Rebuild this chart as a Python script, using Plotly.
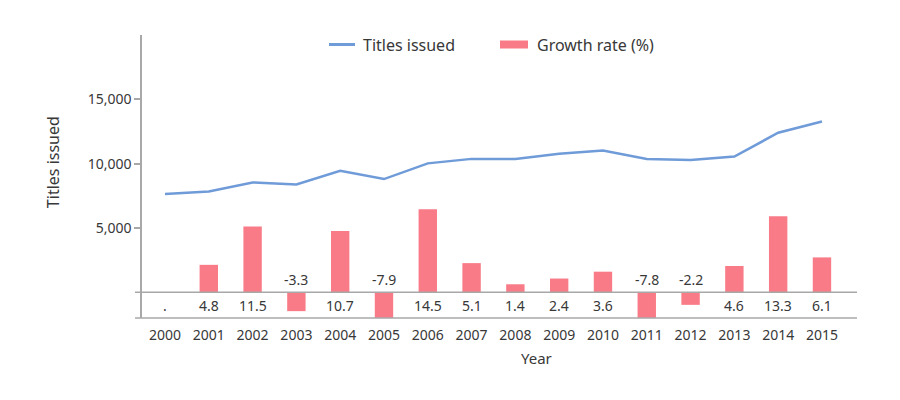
import plotly.graph_objects as go

years = ["2000", "2001", "2002", "2003", "2004", "2005", "2006", "2007",
         "2008", "2009", "2010", "2011", "2012", "2013", "2014", "2015"]
titles_issued = [7630, 7840, 8540, 8380, 9450, 8800, 10020, 10370,
                 10370, 10760, 11020, 10370, 10290, 10550, 12400, 13280]
growth_rate = [None, 4.8, 11.5, -3.3, 10.7, -7.9, 14.5, 5.1,
               1.4, 2.4, 3.6, -7.8, -2.2, 4.6, 13.3, 6.1]
growth_labels = [".", "4.8", "11.5", "-3.3", "10.7", "-7.9", "14.5", "5.1",
                 "1.4", "2.4", "3.6", "-7.8", "-2.2", "4.6", "13.3", "6.1"]
y_tickvals = [5000, 10000, 15000]
y_ticktext = ["5,000", "10,000", "15,000"]

LINE_C = "#6f9bd8"
BAR_C = "#f97b87"
AX_C = "#a8a8a8"
TXT_C = "#383838"
FONT = "Noto Sans"

# page body has an 8px margin; compensate
OFF = 8
L, T, PW, PH = 142 - OFF, 35 - OFF, 715, 282.7
PL, PT = 142, 35          # plot left/top in window pixels
PB = PT + PH


def px_x(x):
    return (x - PL) / PW


def px_y(y):
    return (PB - y) / PH


fig = go.Figure()
fig.add_trace(go.Bar(x=years, y=growth_rate, yaxis="y2", width=0.42,
                     marker=dict(color=BAR_C, line=dict(width=0)),
                     name="Growth rate (%)", showlegend=False))
fig.add_trace(go.Scatter(x=years, y=titles_issued, mode="lines",
                         line=dict(color=LINE_C, width=2.5),
                         name="Titles issued", showlegend=False))

ann = []
for i, (g, lab) in enumerate(zip(growth_rate, growth_labels)):
    neg = g is not None and g < 0
    ann.append(dict(x=i, y=0, xref="x", yref="y", text=lab, showarrow=False,
                    yshift=12.5 if neg else -13,
                    font=dict(family=FONT, size=14, color=TXT_C)))

ann.append(dict(x=px_x(536), y=px_y(358), xref="paper", yref="paper",
                text="Year", showarrow=False, xanchor="center", yanchor="middle",
                font=dict(family=FONT, size=15, color=TXT_C)))
ann.append(dict(x=px_x(52.5), y=px_y(162.5), xref="paper", yref="paper",
                text="Titles issued", showarrow=False, textangle=-90,
                xanchor="center", yanchor="middle",
                font=dict(family=FONT, size=16, color=TXT_C)))
# legend
ann.append(dict(x=px_x(361), y=px_y(45), xref="paper", yref="paper",
                text="Titles issued", showarrow=False, xanchor="left", yanchor="middle",
                font=dict(family=FONT, size=16, color=TXT_C)))
ann.append(dict(x=px_x(535), y=px_y(45), xref="paper", yref="paper",
                text="Growth rate (%)", showarrow=False, xanchor="left", yanchor="middle",
                font=dict(family=FONT, size=16, color=TXT_C)))

ext = px_x(135)
shapes = [
    dict(type="line", xref="paper", yref="y", x0=ext, x1=px_x(857), y0=0, y1=0,
         line=dict(color=AX_C, width=1.5)),
    dict(type="line", xref="paper", yref="paper", x0=ext, x1=px_x(857), y0=0, y1=0,
         line=dict(color=AX_C, width=1.5)),
    dict(type="line", xref="paper", yref="paper",
         x0=px_x(329), x1=px_x(355), y0=px_y(44.5), y1=px_y(44.5),
         line=dict(color=LINE_C, width=3)),
    dict(type="rect", xref="paper", yref="paper",
         x0=px_x(500), x1=px_x(528), y0=px_y(48.5), y1=px_y(40.5),
         fillcolor=BAR_C, line=dict(width=0)),
]

fig.update_layout(
    width=900 - OFF, height=400 - OFF,
    margin=dict(l=L, r=900 - OFF - L - PW, t=T, b=400 - OFF - T - PH),
    paper_bgcolor="white", plot_bgcolor="white",
    font=dict(family=FONT, size=14, color=TXT_C),
    xaxis=dict(type="category", range=[-0.525, 15.8], showgrid=False,
               showline=False, zeroline=False, ticks="", ticklabelstandoff=7,
               tickfont=dict(family=FONT, size=14, color=TXT_C)),
    yaxis=dict(range=[-2000, 20000], showgrid=False, zeroline=False,
               showline=True, linecolor=AX_C, linewidth=1.5,
               ticks="outside", ticklen=6, tickcolor=AX_C, tickwidth=1.5,
               tickvals=y_tickvals, ticktext=y_ticktext,
               tickfont=dict(family=FONT, size=14, color=TXT_C)),
    yaxis2=dict(range=[-4.5, 45], overlaying="y", side="right", visible=False,
                showgrid=False, zeroline=False),
    annotations=ann, shapes=shapes, showlegend=False, bargap=0.5,
)

fig.write_html("out.html")
